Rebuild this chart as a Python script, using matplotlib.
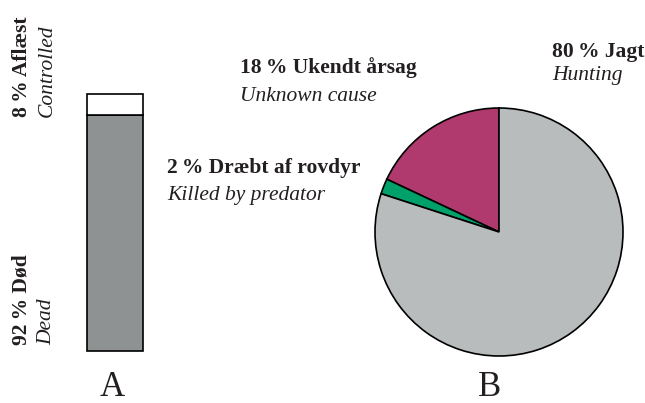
import matplotlib.pyplot as plt

# Data
bar_labels = ['Død', 'Aflæst']
bar_values = [92, 8]
bar_colors = ['#8e9293', '#ffffff']

pie_labels = ['Ukendt årsag', 'Dræbt af rovdyr', 'Jagt']
pie_values = [18, 2, 80]
pie_colors = ['#b03a6e', '#00a06a', '#b8bcbd']

W, H = 645, 403
plt.rcParams['font.family'] = ['Liberation Serif', 'DejaVu Serif']
txt = '#231f20'
fs = 15.5

fig = plt.figure(figsize=(W / 100, H / 100), dpi=100)


def fx(px):
    return px / W


def fy(py):
    return 1 - py / H


# A: stacked bar
ax1 = fig.add_axes([fx(70), fy(351), fx(90), 257 / H])
bottom = 0
for v, c in zip(bar_values, bar_colors):
    ax1.bar(0, v, width=1, bottom=bottom, color=c, edgecolor='black',
            linewidth=1.2, clip_on=False)
    bottom += v
ax1.set_xlim(-0.8, 0.8)
ax1.set_ylim(0, 100)
ax1.axis('off')

fig.text(fx(22), fy(117), '8\u2009% Aflæst', rotation=90, ha='center', va='bottom',
         fontsize=fs, fontweight='bold', color=txt)
fig.text(fx(47), fy(117), 'Controlled', rotation=90, ha='center', va='bottom',
         fontsize=fs, style='italic', color=txt)
fig.text(fx(22), fy(345), '92\u2009% Død', rotation=90, ha='center', va='bottom',
         fontsize=fs, fontweight='bold', color=txt)
fig.text(fx(47), fy(345), 'Dead', rotation=90, ha='center', va='bottom',
         fontsize=fs, style='italic', color=txt)

# B: pie
r = 124
ax2 = fig.add_axes([fx(499 - r), fy(232 + r), 2 * r / W, 2 * r / H])
ax2.pie(pie_values, colors=pie_colors, startangle=90, counterclock=True,
        radius=1, wedgeprops=dict(edgecolor='black', linewidth=1.2))
ax2.set_xlim(-1, 1)
ax2.set_ylim(-1, 1)
ax2.set_aspect('equal')
ax2.axis('off')

fig.text(fx(240), fy(73), '18\u2009% Ukendt årsag', ha='left', va='baseline',
         fontsize=fs, fontweight='bold', color=txt)
fig.text(fx(240), fy(101), 'Unknown cause', ha='left', va='baseline',
         fontsize=fs, style='italic', color=txt)
fig.text(fx(167), fy(173), '2\u2009% Dræbt af rovdyr', ha='left', va='baseline',
         fontsize=fs, fontweight='bold', color=txt)
fig.text(fx(167), fy(200), 'Killed by predator', ha='left', va='baseline',
         fontsize=fs, style='italic', color=txt)
fig.text(fx(552), fy(57), '80\u2009% Jagt', ha='left', va='baseline',
         fontsize=fs, fontweight='bold', color=txt)
fig.text(fx(552), fy(80), 'Hunting', ha='left', va='baseline',
         fontsize=fs, style='italic', color=txt)

fig.text(fx(112), fy(387), 'A', ha='center', va='center', fontsize=25, color=txt)
fig.text(fx(490), fy(387), 'B', ha='center', va='center', fontsize=25, color=txt)

fig.savefig('out.png', dpi=100, facecolor='white')
